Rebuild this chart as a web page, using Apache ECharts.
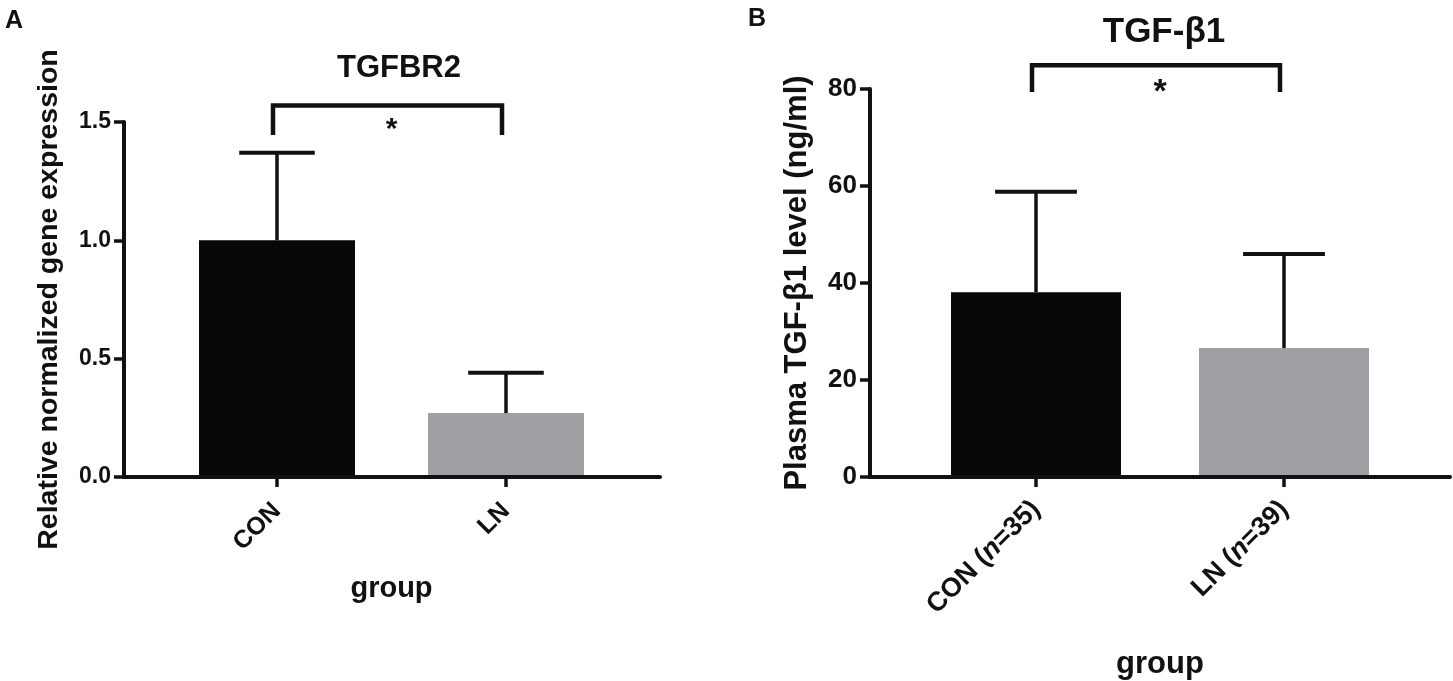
<!DOCTYPE html>
<html>
<head>
<meta charset="utf-8">
<script src="https://cdn.jsdelivr.net/npm/echarts@6/dist/echarts.min.js"></script>
<style>
  html, body { margin: 0; padding: 0; background: #fff; }
  #chart { width: 1453px; height: 681px; }
</style>
</head>
<body>
<div id="chart"></div>
<script>
// panel A : TGFBR2
var catsA = ['CON', 'LN'];
var meanA = [1.0, 0.27];
var sdA = [0.37, 0.17];
var ticksA = [0, 0.5, 1.0, 1.5];
var sigA = [0, 1, 1.57, 1.445];   // from, to, bracket top, bracket foot

// panel B : TGF-β1
var catsB = ['CON (n=35)', 'LN (n=39)'];
var meanB = [38.1, 26.6];
var sdB = [20.7, 19.4];
var ticksB = [0, 20, 40, 60, 80];
var sigB = [0, 1, 84.9, 79.4];

var barColors = ['#060808', '#a09fa4'];
var ink = '#111';
var font = 'Liberation Sans, Arial, sans-serif';

var chart = echarts.init(document.getElementById('chart'));

function errData(mean, sd) {
  return mean.map(function (m, i) { return [i, m, sd[i]]; });
}

function errRender(params, api) {
  var base = api.coord([api.value(0), api.value(1)]);
  var top = api.coord([api.value(0), api.value(1) + api.value(2)]);
  var half = api.size([1, 0])[0] * 0.165;
  return {
    type: 'group',
    children: [
      { type: 'line', shape: { x1: base[0], y1: base[1], x2: top[0], y2: top[1] },
        style: { stroke: ink, lineWidth: 3.5 } },
      { type: 'line', shape: { x1: top[0] - half, y1: top[1], x2: top[0] + half, y2: top[1] },
        style: { stroke: ink, lineWidth: 4 } }
    ]
  };
}

function sigRender(starSize, starGap) {
  return function (params, api) {
    var a = api.coord([api.value(0), api.value(3)]);
    var b = api.coord([api.value(0), api.value(2)]);
    var c = api.coord([api.value(1), api.value(2)]);
    var d = api.coord([api.value(1), api.value(3)]);
    var dx = -4;
    return {
      type: 'group',
      children: [
        { type: 'polyline',
          shape: { points: [[a[0] + dx, a[1]], [b[0] + dx, b[1]], [c[0] + dx, c[1]], [d[0] + dx, d[1]]] },
          style: { stroke: ink, lineWidth: 4.5, fill: null } },
        { type: 'text',
          style: { text: '*', x: (b[0] + c[0]) / 2, y: b[1] + starGap,
                   align: 'center', verticalAlign: 'middle',
                   font: 'bold ' + starSize + 'px ' + font, fill: ink } }
      ]
    };
  };
}

function frameX(grid) {
  return {
    gridIndex: grid, type: 'value', min: 0, max: 1, z: 5,
    axisLine: { show: true, lineStyle: { color: ink, width: 4 } },
    axisTick: { show: false }, axisLabel: { show: false }, splitLine: { show: false }
  };
}

function frameY(grid, ticks, name, nameSize, nameGap, labelSize, digits) {
  return {
    gridIndex: grid, type: 'value', z: 5,
    min: ticks[0], max: ticks[ticks.length - 1], interval: ticks[1] - ticks[0],
    name: name, nameLocation: 'middle', nameGap: nameGap,
    nameTextStyle: { fontFamily: font, fontWeight: 'bold', fontSize: nameSize, color: ink },
    axisLine: { show: true, lineStyle: { color: ink, width: 4 } },
    axisTick: { show: true, length: 10, lineStyle: { color: ink, width: 3.5 } },
    axisLabel: { margin: 13, fontFamily: font, fontWeight: 'bold', fontSize: labelSize, color: ink,
                 formatter: function (v) { return v.toFixed(digits); } },
    splitLine: { show: false }
  };
}

function catX(grid, cats, labelSize, margin, nameSize, nameGap, rich) {
  return {
    gridIndex: grid, type: 'category', data: cats,
    name: 'group', nameLocation: 'middle', nameGap: nameGap,
    nameTextStyle: { fontFamily: font, fontWeight: 'bold', fontSize: nameSize, color: ink },
    axisLine: { show: false },
    axisTick: { show: true, alignWithLabel: true, length: 10, lineStyle: { color: ink, width: 3.5 } },
    axisLabel: { rotate: 45, margin: margin, fontFamily: font, fontWeight: 'bold',
                 fontSize: labelSize, color: ink, interval: 0,
                 formatter: function (v) { return v.replace('(n=', '({it|n}='); },
                 rich: rich }
  };
}

function hiddenY(grid, ticks) {
  return { gridIndex: grid, type: 'value', show: false,
           min: ticks[0], max: ticks[ticks.length - 1] };
}

var option = {
  backgroundColor: '#fff',
  animation: false,
  title: [
    { text: 'A', left: 0, top: 4, textStyle: { fontFamily: font, fontWeight: 'bold', fontSize: 25, color: ink } },
    { text: 'TGFBR2', left: 394, top: 48, textAlign: 'center',
      textStyle: { fontFamily: font, fontWeight: 'bold', fontSize: 31, color: ink } },
    { text: 'B', left: 743, top: 2, textStyle: { fontFamily: font, fontWeight: 'bold', fontSize: 25, color: ink } },
    { text: 'TGF-β1', left: 1159, top: 10, textAlign: 'center',
      textStyle: { fontFamily: font, fontWeight: 'bold', fontSize: 35, color: ink } }
  ],
  grid: [
    { left: 124, top: 122, width: 536, height: 355, outerBoundsMode: 'none' },
    { left: 162.5, top: 122, width: 458, height: 355, outerBoundsMode: 'none' },
    { left: 870, top: 89, width: 580, height: 388, outerBoundsMode: 'none' },
    { left: 912, top: 89, width: 496, height: 388, outerBoundsMode: 'none' }
  ],
  xAxis: [
    frameX(0),
    catX(1, catsA, 25, 30, 29, 97, {}),
    frameX(2),
    catX(3, catsB, 27, 28, 31, 172, {
      it: { fontFamily: font, fontWeight: 'bold', fontStyle: 'italic', fontSize: 27, color: ink }
    })
  ],
  yAxis: [
    frameY(0, ticksA, 'Relative normalized gene expression', 28.5, 60, 23, 1),
    hiddenY(1, ticksA),
    frameY(2, ticksB, 'Plasma TGF-β1 level (ng/ml)', 31, 57, 26, 0),
    hiddenY(3, ticksB)
  ],
  series: [
    { type: 'bar', xAxisIndex: 1, yAxisIndex: 1, barWidth: 156, data: meanA,
      itemStyle: { color: function (p) { return barColors[p.dataIndex]; } } },
    { type: 'custom', xAxisIndex: 1, yAxisIndex: 1, data: errData(meanA, sdA),
      renderItem: errRender, z: 4 },
    { type: 'custom', xAxisIndex: 1, yAxisIndex: 1, data: [sigA], clip: false,
      renderItem: sigRender(30, 24), z: 4 },

    { type: 'bar', xAxisIndex: 3, yAxisIndex: 3, barWidth: 170, data: meanB,
      itemStyle: { color: function (p) { return barColors[p.dataIndex]; } } },
    { type: 'custom', xAxisIndex: 3, yAxisIndex: 3, data: errData(meanB, sdB),
      renderItem: errRender, z: 4 },
    { type: 'custom', xAxisIndex: 3, yAxisIndex: 3, data: [sigB], clip: false,
      renderItem: sigRender(34, 27), z: 4 }
  ]
};

chart.setOption(option);
</script>
</body>
</html>
